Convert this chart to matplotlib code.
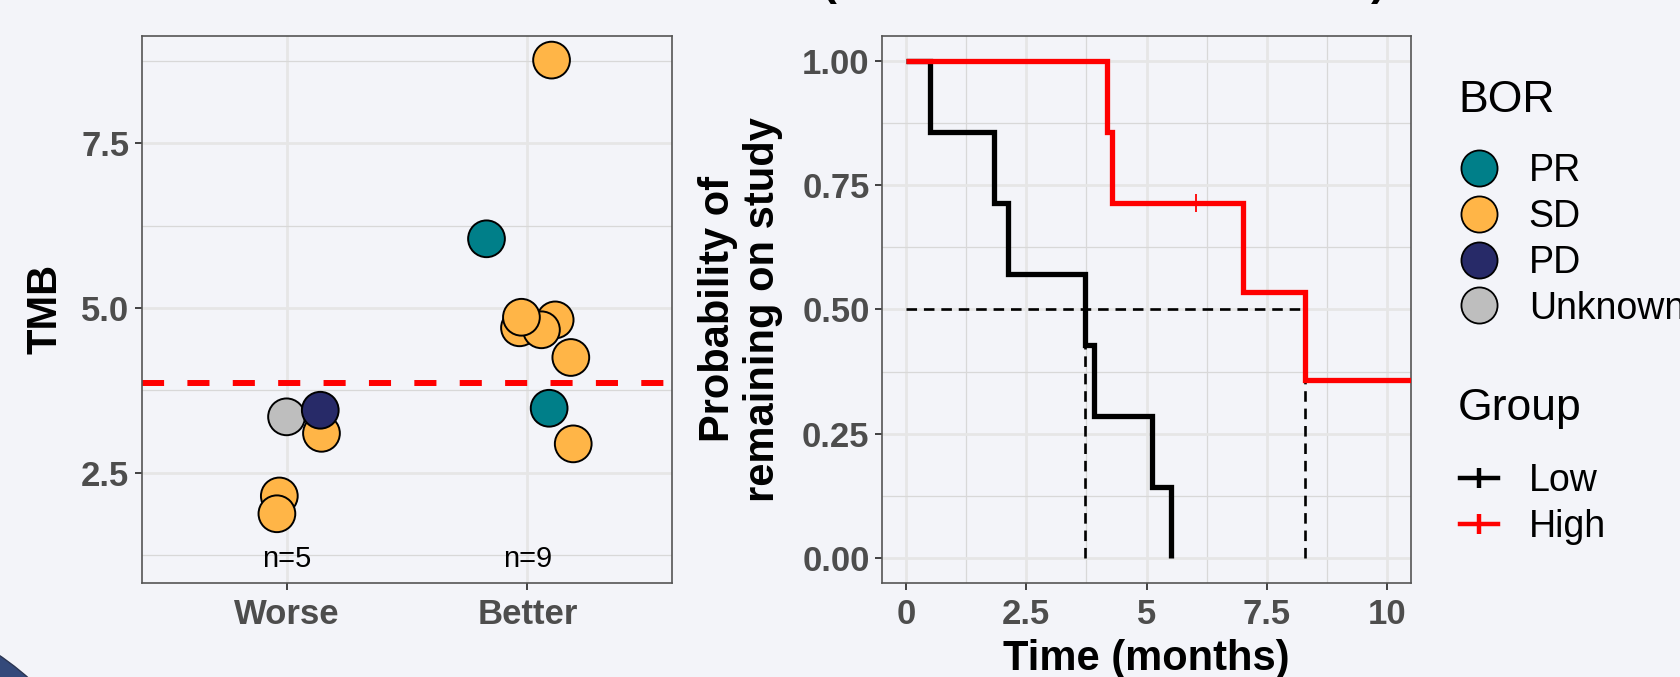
import matplotlib
matplotlib.use("Agg")
import matplotlib.pyplot as plt
from matplotlib.lines import Line2D
from matplotlib.patches import Ellipse
import numpy as np

plt.rcParams['font.family'] = ['Liberation Sans', 'DejaVu Sans']

# left panel: TMB per patient, listed in drawing order (later points sit on top)
tmb_group = ['Worse', 'Worse', 'Worse', 'Worse', 'Worse',
             'Better', 'Better', 'Better', 'Better', 'Better',
             'Better', 'Better', 'Better', 'Better']
tmb_value = [3.10, 3.35, 3.45, 2.15, 1.88,
             8.76, 6.05, 4.70, 4.82, 4.67, 4.86, 4.25, 3.48, 2.94]
tmb_bor = ['SD', 'Unknown', 'PD', 'SD', 'SD',
           'SD', 'PR', 'SD', 'SD', 'SD', 'SD', 'SD', 'PR', 'SD']
tmb_jitter = [0.145, 0.0, 0.14, -0.03, -0.04,
              0.10, -0.17, -0.033, 0.115, 0.058, -0.025, 0.18, 0.09, 0.19]
group_order = ['Worse', 'Better']
group_n = [5, 9]
tmb_cutoff = 3.86

bor_levels = ['PR', 'SD', 'PD', 'Unknown']
bor_colors = ['#007F89', '#FFB547', '#272A68', '#BEBEBE']

# right panel: months on study, 1 = event, 0 = censored
low_time = [0.49, 1.82, 2.13, 3.72, 3.91, 5.11, 5.51]
low_event = [1, 1, 1, 1, 1, 1, 1]
high_time = [4.18, 4.29, 6.02, 7.0, 8.3, 11.5, 12.8]
high_event = [1, 1, 0, 1, 1, 0, 0]
km_groups = ['Low', 'High']
km_colors = ['black', '#FF0000']

BG = '#F3F4F9'
TICK_COL = '#4D4D4D'


def km(times, events):
    t = np.array(times, dtype=float)
    e = np.array(events)
    idx = np.argsort(t)
    t, e = t[idx], e[idx]
    at_risk = len(t)
    s = 1.0
    xs, ys = [0.0], [1.0]
    cx, cy = [], []
    for ti, ei in zip(t, e):
        if ei:
            s *= (at_risk - 1) / at_risk
            xs.append(ti)
            ys.append(s)
        else:
            cx.append(ti)
            cy.append(s)
        at_risk -= 1
    xs.append(t[-1])
    ys.append(s)
    return xs, ys, cx, cy


def style_axes(ax):
    ax.set_facecolor(BG)
    for sp in ax.spines.values():
        sp.set_color('#555555')
        sp.set_linewidth(1.2)
    ax.grid(True, which='major', color='#E6E6E6', lw=2.0, zorder=0)
    ax.grid(True, which='minor', color='#D8D8D8', lw=0.9, zorder=0)
    ax.set_axisbelow(True)
    ax.tick_params(which='major', length=5, width=1.3, color='#333333',
                   labelsize=25, labelcolor=TICK_COL, pad=4)
    ax.tick_params(axis='x', which='major', pad=6)
    ax.tick_params(which='minor', length=0)
    for lab in ax.get_xticklabels() + ax.get_yticklabels():
        lab.set_fontweight('bold')


fig = plt.figure(figsize=(16.8, 6.77), dpi=100, facecolor=BG)

# decorative corner of the slide
fig.add_artist(Ellipse((-170 / 1680, -226 / 677), 600 / 1680, 600 / 677,
                       transform=fig.transFigure, facecolor='#34497A',
                       edgecolor='#2B3552', lw=1.0, zorder=0))

# title of the slide, mostly cropped away
fig.text(829 / 1680, 1.007, '(', fontsize=32, fontweight='bold', va='baseline', ha='center')
fig.text(1378 / 1680, 1.007, ')', fontsize=32, fontweight='bold', va='baseline', ha='center')

# ---------------- left: TMB dot plot ----------------
ax1 = fig.add_axes([142 / 1680, 94 / 677, 530 / 1680, 547.3 / 677])
pos = {g: i + 1 for i, g in enumerate(group_order)}
cmap = dict(zip(bor_levels, bor_colors))
xs = [pos[g] + j for g, j in zip(tmb_group, tmb_jitter)]
cols = [cmap[b] for b in tmb_bor]
ax1.scatter(xs, tmb_value, s=700, c=cols, edgecolors='black', linewidths=1.4, zorder=3)
ax1.axhline(tmb_cutoff, color='#FF0000', lw=4.3, linestyle=(0, (3.7, 3.9)), zorder=2)
for g, n in zip(group_order, group_n):
    ax1.text(pos[g], 1.2, f'n={n}', fontsize=21, ha='center', va='center', zorder=4)
ax1.set_xlim(0.4, 2.6)
ax1.set_ylim(0.83, 9.13)
ax1.set_xticks([1, 2])
ax1.set_xticklabels(group_order)
ax1.set_yticks([2.5, 5.0, 7.5])
ax1.set_yticklabels(['2.5', '5.0', '7.5'])
ax1.set_yticks([1.25, 3.75, 6.25, 8.75], minor=True)
style_axes(ax1)
ax1.set_ylabel('TMB', fontsize=30, fontweight='bold', va='center')
ax1.yaxis.set_label_coords(-0.183, 0.5)

# ---------------- right: Kaplan-Meier ----------------
ax2 = fig.add_axes([882 / 1680, 94 / 677, 529 / 1680, 547.3 / 677])
curves = []
for times, events in [(low_time, low_event), (high_time, high_event)]:
    curves.append(km(times, events))
medians = []
for xs_, ys_, _, _ in curves:
    med = next(x for x, y in zip(xs_, ys_) if y <= 0.5)
    medians.append(med)
dash = (0, (4.0, 2.6))
ax2.plot([0, max(medians)], [0.5, 0.5], color='black', lw=1.9, linestyle=dash, zorder=2)
for m in medians:
    ax2.plot([m, m], [0, 0.5], color='black', lw=1.9, linestyle=dash, zorder=2)
for (xs_, ys_, cx, cy), col in zip(curves, km_colors):
    ax2.step(xs_, ys_, where='post', color=col, lw=3.8, zorder=3,
             solid_joinstyle='miter', solid_capstyle='butt')
    ax2.plot(cx, cy, linestyle='none', marker='|', markersize=13, mew=1.3, color=col, zorder=4)
ax2.set_xlim(-0.5, 10.5)
ax2.set_ylim(-0.05, 1.05)
ax2.set_xticks([0, 2.5, 5, 7.5, 10])
ax2.set_xticklabels(['0', '2.5', '5', '7.5', '10'])
ax2.set_xticks([1.25, 3.75, 6.25, 8.75], minor=True)
ax2.set_yticks([0, 0.25, 0.5, 0.75, 1.0])
ax2.set_yticklabels(['0.00', '0.25', '0.50', '0.75', '1.00'])
ax2.set_yticks([0.125, 0.375, 0.625, 0.875], minor=True)
style_axes(ax2)
ax2.set_ylabel('Probability of\nremaining on study', fontsize=30, fontweight='bold',
               va='center', linespacing=1.15)
ax2.yaxis.set_label_coords(-0.268, 0.5)
ax2.set_xlabel('Time (months)', fontsize=30, fontweight='bold', va='baseline')
ax2.xaxis.set_label_coords(0.5, -0.159)

# ---------------- legends ----------------
fig.text(1458 / 1680, 1 - 100 / 677, 'BOR', fontsize=32, ha='left', va='center')
bor_handles = [Line2D([0], [0], linestyle='none', marker='o', markersize=26,
                      markerfacecolor=c, markeredgecolor='black', markeredgewidth=1.3)
               for c in bor_colors]
fig.legend(handles=bor_handles, labels=bor_levels, loc='center left',
           bbox_to_anchor=(1460 / 1680, 1 - 240 / 677), frameon=False,
           fontsize=27, handlelength=1.0, handletextpad=0.83, labelspacing=0.26,
           borderpad=0, borderaxespad=0)

fig.text(1458 / 1680, 1 - 409 / 677, 'Group', fontsize=32, ha='left', va='center')
grp_handles = [Line2D([0], [0], color=c, lw=3.2, marker='|', markersize=15, mew=3.2)
               for c in km_colors]
fig.legend(handles=grp_handles, labels=km_groups, loc='center left',
           bbox_to_anchor=(1460 / 1680, 1 - 504 / 677), frameon=False,
           fontsize=27, handlelength=1.0, handletextpad=0.83, labelspacing=0.26,
           borderpad=0, borderaxespad=0)

fig.savefig('out.png', dpi=100, facecolor=BG)
